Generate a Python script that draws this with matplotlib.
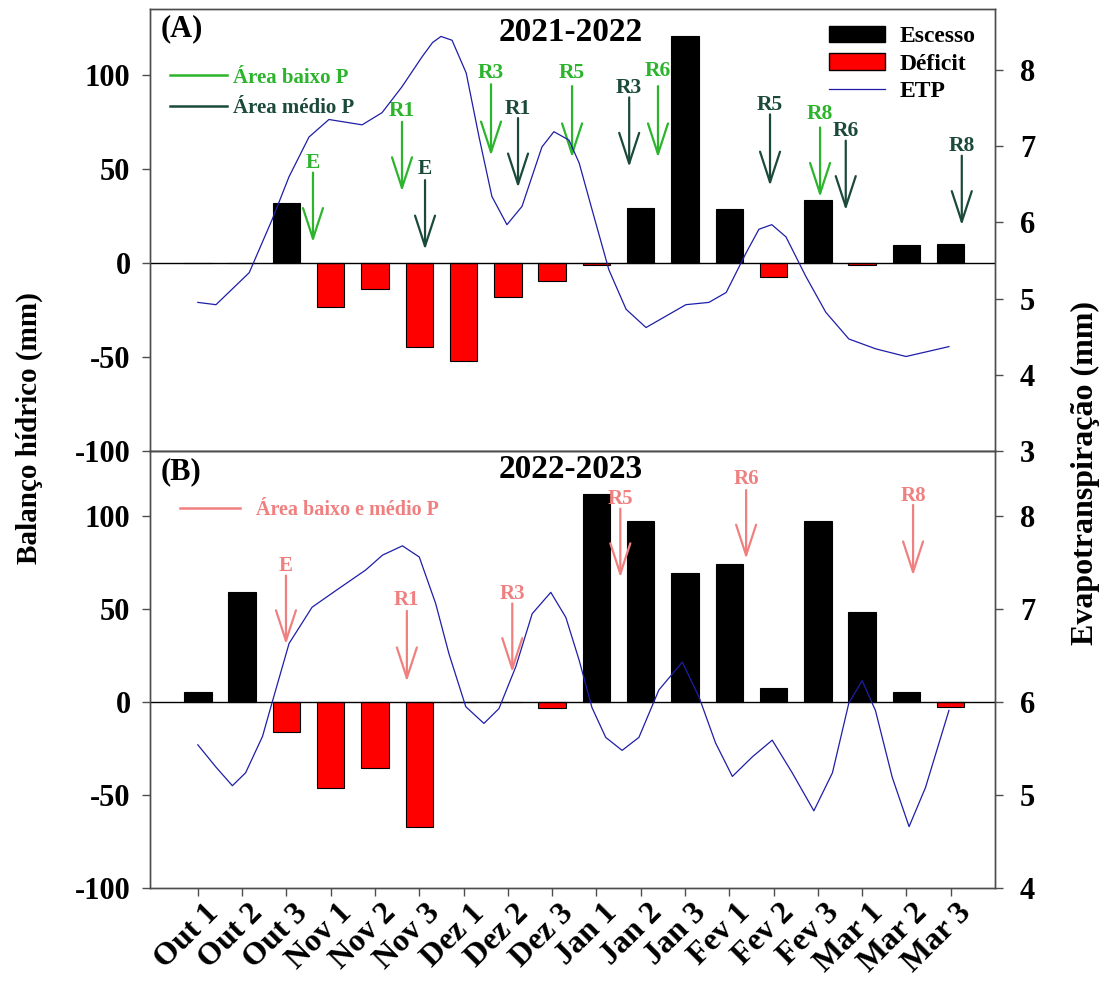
import numpy as np
import matplotlib.pyplot as plt
import matplotlib.transforms as mtransforms
from matplotlib.lines import Line2D
from matplotlib.patches import Patch

plt.rcParams['font.family'] = ['Liberation Serif', 'DejaVu Serif']
plt.rcParams['font.weight'] = 'bold'
plt.rcParams['axes.unicode_minus'] = False

# decendios
cats = ['Out 1', 'Out 2', 'Out 3', 'Nov 1', 'Nov 2', 'Nov 3', 'Dez 1', 'Dez 2', 'Dez 3',
        'Jan 1', 'Jan 2', 'Jan 3', 'Fev 1', 'Fev 2', 'Fev 3', 'Mar 1', 'Mar 2', 'Mar 3']

# balanco hidrico (mm)
bh_2122 = [0, 0, 32, -23.5, -13.7, -44.5, -52, -18, -9.6, -1, 29.4, 120.7, 28.9, -7.3, 33.4, -1, 9.6, 10.1]
bh_2223 = [5.5, 59, -16.3, -46.3, -35.5, -67, 0, 0, -3, 112, 97.5, 69.3, 74.3, 7.5, 97.4, 48.6, 5.2, -2.5]

# ETP (mm)
etp_x_2122 = [0.0, 0.41, 1.16, 1.68, 2.06, 2.51, 2.96, 3.71, 4.16, 4.61, 5.06, 5.30, 5.49, 5.74, 6.06,
              6.35, 6.64, 6.98, 7.32, 7.77, 8.04, 8.38, 8.61, 8.90, 9.28, 9.67, 10.12, 10.57,
              11.02, 11.54, 11.93, 12.38, 12.67, 12.96, 13.28, 13.73, 14.18, 14.70, 15.31,
              15.99, 16.44, 16.96]
etp_2122 = [4.95, 4.92, 5.34, 6.04, 6.60, 7.12, 7.35, 7.28, 7.44, 7.78, 8.17, 8.36, 8.44, 8.39, 7.96,
            7.12, 6.34, 5.97, 6.21, 6.99, 7.19, 7.08, 6.78, 6.17, 5.38, 4.86, 4.62, 4.77,
            4.92, 4.95, 5.08, 5.60, 5.91, 5.97, 5.81, 5.29, 4.82, 4.47, 4.34,
            4.24, 4.30, 4.37]

etp_x_2223 = [0.0, 0.41, 0.78, 1.08, 1.46, 1.68, 2.06, 2.58, 3.12, 3.79, 4.17, 4.62, 5.00, 5.37,
              5.67, 6.05, 6.46, 6.80, 7.18, 7.55, 7.97, 8.31, 8.61, 8.90, 9.21, 9.58, 9.96,
              10.41, 10.94, 11.32, 11.69, 12.07, 12.52, 12.97, 13.42, 13.91, 14.33, 14.70,
              15.00, 15.30, 15.68, 16.06, 16.43, 16.96]
etp_2223 = [5.54, 5.30, 5.10, 5.24, 5.63, 6.00, 6.63, 7.02, 7.20, 7.42, 7.58, 7.68, 7.56, 7.06,
            6.52, 5.95, 5.77, 5.93, 6.38, 6.95, 7.18, 6.91, 6.45, 5.94, 5.62, 5.48, 5.62,
            6.13, 6.43, 6.05, 5.56, 5.20, 5.41, 5.59, 5.24, 4.83, 5.24, 5.99,
            6.23, 5.91, 5.19, 4.66, 5.08, 5.91]

# estadios: rotulo, x, inicio da seta, ponta da seta, altura do rotulo (mm)
est_baixo_2122 = [('E', 2.60, 48, 11, 53), ('R1', 4.61, 75, 38, 81), ('R3', 6.62, 95, 57, 101),
                  ('R5', 8.45, 94, 56, 101), ('R6', 10.39, 94, 56, 102), ('R8', 14.05, 72, 35, 79)]
est_medio_2122 = [('E', 5.13, 44, 7, 50), ('R1', 7.23, 77, 40, 82), ('R3', 9.74, 88, 51, 93),
                  ('R5', 12.92, 79, 41, 84), ('R6', 14.63, 65, 28, 70), ('R8', 17.25, 57, 20, 62)]
est_2223 = [('E', 1.99, 68, 31, 73), ('R1', 4.72, 49, 11, 55), ('R3', 7.10, 53, 16, 58),
            ('R5', 9.54, 104, 67, 109), ('R6', 12.38, 114, 77, 120), ('R8', 16.15, 106, 68, 111)]

verde = '#2cb42c'
verde_esc = '#1b4a3a'
salmao = '#f08080'
azul = '#1e1ea8'
cinza = '#4d4d4d'

fig = plt.figure(figsize=(11.03, 9.85), dpi=100)
W, H = 1103, 985
axA = fig.add_axes([150 / W, 1 - 451 / H, 845 / W, 442 / H])
axB = fig.add_axes([150 / W, 1 - 888 / H, 845 / W, 437 / H])

x = np.arange(len(cats))


def painel(ax, vals, ex, ey, lim_dir, ticks_dir):
    cores = ['black' if v >= 0 else 'red' for v in vals]
    ax.bar(x, vals, width=0.62, color=cores, edgecolor='black', linewidth=0.8, zorder=2)
    ax.axhline(0, color='black', lw=1, zorder=3)
    ax.set_xlim(-1.08, 18)
    ax.set_ylim(-100, 135)
    ax.set_yticks([-100, -50, 0, 50, 100])
    ax2 = ax.twinx()
    ax2.plot(ex, ey, color=azul, lw=0.9)
    ax2.set_ylim(lim_dir)
    ax2.set_yticks(ticks_dir)
    for a in (ax, ax2):
        for s in a.spines.values():
            s.set_color(cinza)
            s.set_linewidth(1)
        a.tick_params(axis='both', direction='out', length=6, width=1, color=cinza,
                      labelsize=22)
    ax.tick_params(axis='y', pad=8)
    ax2.tick_params(axis='y', pad=12)
    return ax2


def setas(ax, lista, cor, fs):
    for rot, xi, y0, y1, yt in lista:
        ax.annotate('', xy=(xi, y1), xytext=(xi, y0),
                    arrowprops=dict(arrowstyle='->, head_length=2.2, head_width=0.72',
                                    mutation_scale=10, color=cor, lw=1.6,
                                    shrinkA=0, shrinkB=0), zorder=4)
        ax.text(xi, yt, rot, color=cor, fontsize=fs, ha='center', va='center', zorder=4)


axA2 = painel(axA, bh_2122, etp_x_2122, etp_2122, (3, 8.8), [3, 4, 5, 6, 7, 8])
axB2 = painel(axB, bh_2223, etp_x_2223, etp_2223, (4, 8.7), [4, 5, 6, 7, 8])

axA.tick_params(axis='x', bottom=False, labelbottom=False)
axB.set_xticks(x)
axB.set_xticklabels(cats, rotation=45, ha='right', va='center', rotation_mode='anchor',
                    fontsize=23)
axB.tick_params(axis='x', pad=9)
desloc = mtransforms.ScaledTranslation(12 / 72, 0, fig.dpi_scale_trans)
for lab in axB.get_xticklabels():
    lab.set_transform(lab.get_transform() + desloc)

setas(axA, est_baixo_2122, verde, 15.5)
setas(axA, est_medio_2122, verde_esc, 15.5)
setas(axB, est_2223, salmao, 15)

axA.text(0.012, 0.988, '(A)', transform=axA.transAxes, fontsize=22, va='top', ha='left')
axA.text(0.498, 0.946, '2021-2022', transform=axA.transAxes, fontsize=24, va='center', ha='center')
axB.text(0.012, 0.986, '(B)', transform=axB.transAxes, fontsize=22, va='top', ha='left')
axB.text(0.498, 0.957, '2022-2023', transform=axB.transAxes, fontsize=24, va='center', ha='center')

axA2.legend(handles=[Patch(fc='black', ec='black'), Patch(fc='red', ec='black'),
                     Line2D([], [], color=azul, lw=0.9)],
            labels=['Escesso', 'Déficit', 'ETP'], loc='upper right',
            bbox_to_anchor=(0.977, 0.962), borderaxespad=0, borderpad=0, frameon=False,
            fontsize=17, handlelength=2.4, handletextpad=0.6, labelspacing=0.25)

axA.legend(handles=[Line2D([], [], color=verde, lw=1.8), Line2D([], [], color=verde_esc, lw=1.8)],
           labels=['Área baixo P', 'Área médio P'], loc='upper left',
           bbox_to_anchor=(0.024, 0.867), borderaxespad=0, borderpad=0, frameon=False,
           fontsize=15, handlelength=2.7, handletextpad=0.3, labelspacing=0.5,
           labelcolor=[verde, verde_esc])

axB.legend(handles=[Line2D([], [], color=salmao, lw=1.8)], labels=['Área baixo e médio P'],
           loc='upper left', bbox_to_anchor=(0.035, 0.888), borderaxespad=0, borderpad=0,
           frameon=False, fontsize=14.5, handlelength=3.0, handletextpad=0.8,
           labelcolor=[salmao])

fig.text(0.027, 0.565, 'Balanço hídrico (mm)', rotation=90, fontsize=21, ha='center', va='center')
fig.text(0.984, 0.52, 'Evapotranspiração (mm)', rotation=90, fontsize=23, ha='center', va='center')

plt.savefig('out.png', dpi=100)
